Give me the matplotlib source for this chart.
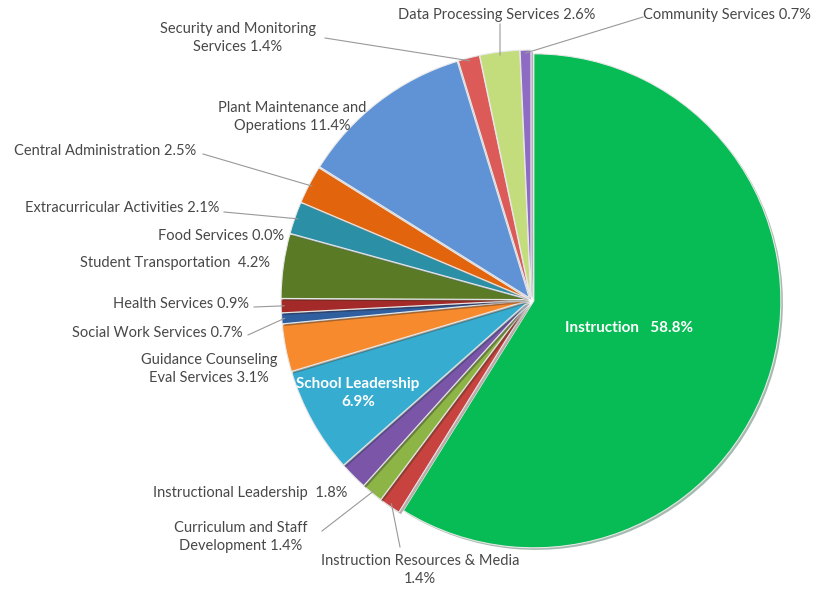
import numpy as np
import matplotlib.pyplot as plt
import matplotlib.patheffects as pe

plt.rcParams['font.family'] = ['Lato', 'DejaVu Sans']

# budget shares by function (percent), clockwise from 12 o'clock
labels = ['Instruction', 'Instruction Resources & Media', 'Curriculum and Staff\nDevelopment',
          'Instructional Leadership ', 'School Leadership', 'Guidance Counseling\nEval Services',
          'Social Work Services', 'Health Services', 'Student Transportation ', 'Food Services',
          'Extracurricular Activities', 'Central Administration', 'Plant Maintenance and\nOperations',
          'Security and Monitoring\nServices', 'Data Processing Services', 'Community Services']
values = [58.8, 1.4, 1.4, 1.8, 6.9, 3.1, 0.7, 0.9, 4.2, 0.0, 2.1, 2.5, 11.4, 1.4, 2.6, 0.7]
colors = ['#07bb55', '#c8423f', '#8db545', '#7a55a8', '#35acd0', '#f78a2c', '#2f5f9e', '#a32a28',
          '#5a7a26', '#7a9a3a', '#2b8fa6', '#e2650e', '#5f93d6', '#dc5b58', '#c4dd7c', '#8f6cc4']

CX, CY, R = 531, 300, 247
W, H = 822, 592


def px(x, y):
    # pixel position on the canvas -> axes data coords (pie radius = 1)
    return ((x - CX) / R, (CY - y) / R)


# where each label sits (pixel coords) and whether it gets a leader line
label_pos = {
    0: ((629, 328), False),
    1: ((420, 570), True),
    2: ((241, 537), True),
    3: ((250, 493), False),
    4: ((358, 393), False),
    5: ((209, 369), False),
    6: ((157, 333), True),
    7: ((181, 304), True),
    8: ((175, 263), False),
    9: ((221, 236), False),
    10: ((122, 208), True),
    11: ((105, 151), True),
    12: ((292, 117), False),
    13: ((238, 38), True),
    14: ((497, 15), True),
    15: ((727, 15), True),
}
# end of each leader line next to its text (pixel coords)
leader_end = {1: (400, 547), 2: (322, 531), 6: (248, 335), 7: (254, 307),
              10: (224, 212), 11: (203, 154), 13: (325, 38), 14: (500, 24), 15: (643, 17)}

fig = plt.figure(figsize=(W / 100, H / 100), dpi=100)
ax = fig.add_axes([0, 0, 1, 1])

wedges, _ = ax.pie(values, colors=colors, startangle=90, counterclock=False,
                   explode=[0.012] * len(values), radius=1.0,
                   wedgeprops=dict(edgecolor='#e8e8e8', linewidth=0.8))
for w in wedges:
    w.set_path_effects([pe.SimplePatchShadow(offset=(1.5, -1.5), alpha=0.35), pe.Normal()])

ax.set_xlim(-CX / R, (W - CX) / R)
ax.set_ylim((CY - H) / R, CY / R)
ax.set_aspect('equal')
ax.axis('off')

total = sum(values)
cum = np.cumsum([0] + values[:-1])
for i, (lab, v) in enumerate(zip(labels, values)):
    (lx, ly), leader = label_pos[i]
    inside = i in (0, 4)
    if i == 0:
        text = f'{lab}   {v:.1f}%'
    elif i in (1, 4):
        text = f'{lab}\n{v:.1f}%'
    else:
        text = f'{lab} {v:.1f}%'
    ax.text(*px(lx, ly), text, ha='center', va='center', multialignment='center',
            fontsize=10.5 if not inside else 11, linespacing=1.45,
            color='white' if inside else '#484848',
            fontweight='bold' if inside else 'normal', zorder=5)
    if leader:
        mid = np.deg2rad(90 - (cum[i] + v / 2) / total * 360)
        sx, sy = np.cos(mid), np.sin(mid)
        ex, ey = px(*leader_end[i])
        ax.plot([sx, ex], [sy, ey], color='#999999', lw=0.8, zorder=4)

fig.savefig('out.png', dpi=100, facecolor='white')
